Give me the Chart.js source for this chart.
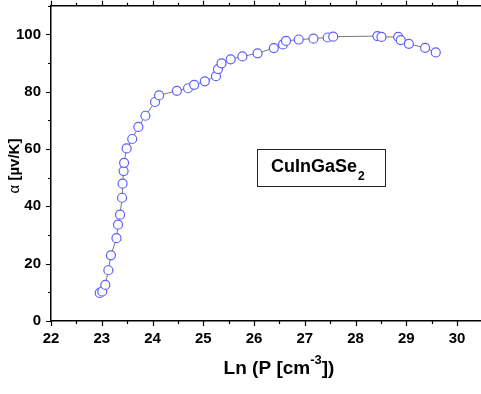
<!DOCTYPE html>
<html>
<head>
<meta charset="utf-8">
<script src="https://cdn.jsdelivr.net/npm/chart.js@4"></script>
<style>
  html, body { margin: 0; padding: 0; background: #fff; overflow: hidden; }
  #wrap { position: absolute; left: 0; top: 0; width: 500px; height: 394px; }
</style>
</head>
<body>
<div id="wrap"><canvas id="chart" width="500" height="394"></canvas></div>
<script>
// Seebeck coefficient vs ln of carrier concentration, CuInGaSe2
const lnP = [22.96, 23.01, 23.07, 23.13, 23.18, 23.29, 23.32, 23.36, 23.40, 23.41,
             23.43, 23.44, 23.49, 23.60, 23.72, 23.86, 24.05, 24.13, 24.48, 24.70,
             24.82, 25.03, 25.25, 25.29, 25.36, 25.54, 25.77, 26.07, 26.39, 26.57,
             26.63, 26.88, 27.17, 27.45, 27.56, 28.43, 28.51, 28.84, 28.89, 29.05,
             29.37, 29.58];
const alpha = [9.8, 10.3, 12.6, 17.7, 22.9, 28.9, 33.6, 37.1, 43.0, 47.9,
               52.3, 55.2, 60.2, 63.5, 67.7, 71.6, 76.4, 78.7, 80.3, 81.2,
               82.4, 83.6, 85.4, 87.9, 89.9, 91.3, 92.3, 93.4, 95.2, 96.5,
               97.7, 98.2, 98.5, 98.9, 99.2, 99.4, 99.1, 99.1, 98.0, 96.7,
               95.3, 93.7];
const xTickLabels = ['22', '23', '24', '25', '26', '27', '28', '29', '30'];
const yTickLabels = ['0', '20', '40', '60', '80', '100'];

const FONT = 'Liberation Sans, Arial, sans-serif';

// draws the Origin-style frame: minor/major ticks, top axis, titles, label box
const decorations = {
  id: 'decorations',
  afterDraw(chart) {
    const ctx = chart.ctx;
    const xs = chart.scales.x, ys = chart.scales.y;
    const a = chart.chartArea;
    ctx.save();
    ctx.strokeStyle = '#000';
    ctx.lineWidth = 1.5;
    ctx.beginPath();
    ctx.moveTo(a.left, a.top); ctx.lineTo(a.right, a.top);
    ctx.moveTo(a.right, a.top); ctx.lineTo(a.right, a.bottom);
    ctx.stroke();

    ctx.lineWidth = 1.2;
    ctx.beginPath();
    for (let v = 22; v <= 30.5 + 1e-6; v += 0.5) {
      const px = Math.round(xs.getPixelForValue(v)) + 0.5;
      const len = Number.isInteger(v) ? 5 : 3;
      ctx.moveTo(px, a.bottom); ctx.lineTo(px, a.bottom + len);
      ctx.moveTo(px, a.top); ctx.lineTo(px, a.top - len);
    }
    for (let v = ys.min; v <= ys.max + 1e-6; v += 10) {
      const py = Math.round(ys.getPixelForValue(v)) + 0.5;
      const len = v % 20 === 0 ? 5 : 3;
      ctx.moveTo(a.left, py); ctx.lineTo(a.left - len, py);
    }
    ctx.stroke();

    ctx.fillStyle = '#000';
    // x title with superscript
    ctx.textBaseline = 'alphabetic';
    ctx.textAlign = 'left';
    const big = 'bold 19px ' + FONT, small = 'bold 13px ' + FONT;
    ctx.font = big;
    const p1 = 'Ln (P [cm', p3 = '])';
    const w1 = ctx.measureText(p1).width, w3 = ctx.measureText(p3).width;
    ctx.font = small;
    const w2 = ctx.measureText('-3').width;
    let x0 = 279 - (w1 + w2 + w3) / 2;
    const yb = 374;
    ctx.font = big; ctx.fillText(p1, x0, yb);
    ctx.font = small; ctx.fillText('-3', x0 + w1, yb - 10);
    ctx.font = big; ctx.fillText(p3, x0 + w1 + w2, yb);

    // y title rotated
    ctx.save();
    ctx.translate(19, 166);
    ctx.rotate(-Math.PI / 2);
    ctx.font = '15px ' + FONT;
    const ta = 'α ';
    const wa = ctx.measureText(ta).width;
    ctx.font = 'bold 15px ' + FONT;
    const tb = '[µv/K]';
    const wb = ctx.measureText(tb).width;
    let sx = -(wa + wb) / 2;
    ctx.font = '15px ' + FONT; ctx.fillText(ta, sx, 0);
    ctx.font = 'bold 15px ' + FONT; ctx.fillText(tb, sx + wa, 0);
    ctx.restore();

    // compound label box
    ctx.lineWidth = 1;
    ctx.strokeStyle = '#222';
    ctx.strokeRect(257.5, 149.5, 128, 37);
    ctx.font = 'bold 18px ' + FONT;
    ctx.fillText('CuInGaSe', 271, 172);
    const wc = ctx.measureText('CuInGaSe').width;
    ctx.font = 'bold 12px ' + FONT;
    ctx.fillText('2', 271 + wc + 1, 180);
    ctx.restore();
  }
};

const points = lnP.map((x, i) => ({ x: x, y: alpha[i] }));

new Chart(document.getElementById('chart'), {
  type: 'scatter',
  data: {
    datasets: [{
      data: points,
      showLine: true,
      borderColor: '#777',
      borderWidth: 1,
      pointRadius: 4.5,
      pointBorderWidth: 1.2,
      pointBorderColor: 'rgb(95,95,255)',
      pointBackgroundColor: '#fff'
    }]
  },
  options: {
    responsive: false,
    animation: false,
    devicePixelRatio: 1,
    layout: { padding: { top: 2.5, right: 15, left: 0, bottom: 0 } },
    plugins: { legend: { display: false }, tooltip: { enabled: false } },
    scales: {
      x: {
        type: 'linear',
        min: 22, max: 30.55,
        grid: { display: false, drawTicks: false },
        border: { display: true, color: '#000', width: 1.5 },
        afterFit(s) { s.height = 73; s.paddingLeft = 0; s.paddingRight = 0; },
        ticks: {
          stepSize: 1, padding: 9, color: '#000', includeBounds: false,
          autoSkip: false,
          font: { family: FONT, weight: 'bold', size: 15 },
          maxRotation: 0,
          callback: v => xTickLabels.includes(String(v)) ? String(v) : ''
        }
      },
      y: {
        min: 0, max: 110,
        grid: { display: false, drawTicks: false },
        border: { display: true, color: '#000', width: 1.5 },
        afterFit(s) { s.width = 51; s.paddingTop = 0; s.paddingBottom = 0; },
        ticks: {
          stepSize: 20, padding: 10, color: '#000', includeBounds: false,
          font: { family: FONT, weight: 'bold', size: 15 },
          callback: v => yTickLabels.includes(String(v)) ? String(v) : ''
        }
      }
    }
  },
  plugins: [decorations]
});
</script>
</body>
</html>
